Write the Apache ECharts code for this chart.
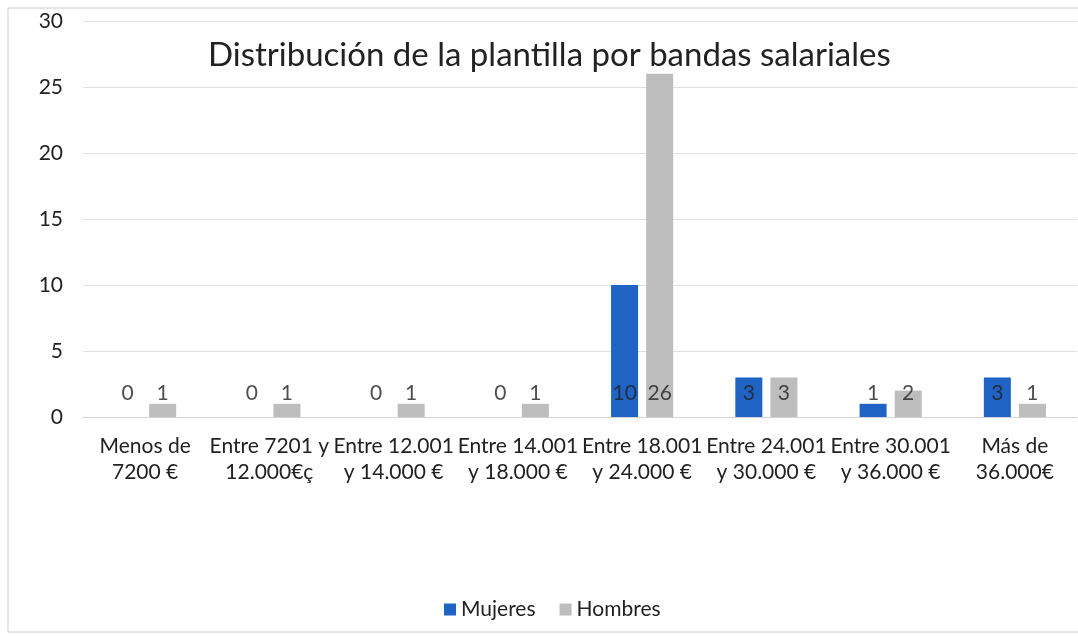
<!DOCTYPE html>
<html><head><meta charset="utf-8">
<script src="https://cdn.jsdelivr.net/npm/echarts@6/dist/echarts.min.js"></script>
<style>html,body{margin:0;padding:0;background:#fff}#c{width:1078px;height:638px}</style>
</head><body><div id="c"></div>
<script>
const categories = ["Menos de\n7200 €","Entre 7201 y\n12.000€ç","Entre 12.001\ny 14.000 €","Entre 14.001\ny 18.000 €","Entre 18.001\ny 24.000 €","Entre 24.001\ny 30.000 €","Entre 30.001\ny 36.000 €","Más de\n36.000€"];
const mujeres = [0,0,0,0,10,3,1,3];
const hombres = [1,1,1,1,26,3,2,1];
const yTicks = {min:0,max:30,interval:5};
const title = "Distribución de la plantilla por bandas salariales";
const LABEL_Y = 1.8;

const FONT = "Lato";
const chart = echarts.init(document.getElementById('c'));
function labelSeries(name, arr, dx){
  return {type:'scatter', name:name+'_lbl', symbolSize:0, silent:true, legendHoverLink:false,
    data: arr.map((v,i)=>[i, LABEL_Y]),
    label:{show:true, position:'inside', offset:[dx,0], fontFamily:FONT, fontSize:21, color:'#222',
      formatter:p=>String(arr[p.dataIndex])}, z:5};
}
chart.setOption({
  animation:false,
  title:{text:title, left:203, top:34, textStyle:{fontFamily:FONT, fontSize:33, fontWeight:'normal', color:'#222'}},
  grid:{left:83, right:1, top:21, bottom:221},
  legend:{data:['Mujeres','Hombres'], bottom:13, left:439, itemWidth:12, itemHeight:12, itemGap:24, icon:'rect',
    textStyle:{fontFamily:FONT, fontSize:21, color:'#222'}},
  xAxis:{type:'category', data:categories, axisTick:{show:false},
    axisLine:{lineStyle:{color:'#d4d4d4'}},
    axisLabel:{interval:0, fontFamily:FONT, fontSize:21, color:'#222', lineHeight:26, margin:16}},
  yAxis:{type:'value', min:yTicks.min, max:yTicks.max, interval:yTicks.interval,
    axisLine:{show:false}, axisTick:{show:false},
    splitLine:{lineStyle:{color:'#e0e0e0'}},
    axisLabel:{fontFamily:FONT, fontSize:21, color:'#222', margin:20}},
  series:[
    {type:'bar', name:'Mujeres', data:mujeres, barWidth:27, barGap:'30%', itemStyle:{color:'#1f63c4'}},
    {type:'bar', name:'Hombres', data:hombres, barWidth:27, itemStyle:{color:'#bdbdbd'}},
    labelSeries('Mujeres', mujeres, -17.5),
    labelSeries('Hombres', hombres, 17.5)
  ],
  graphic:[{type:'rect', shape:{x:8, y:8, width:1100, height:624}, style:{fill:'none', stroke:'#cccccc', lineWidth:1}, silent:true, z:-1}]
});
</script></body></html>
